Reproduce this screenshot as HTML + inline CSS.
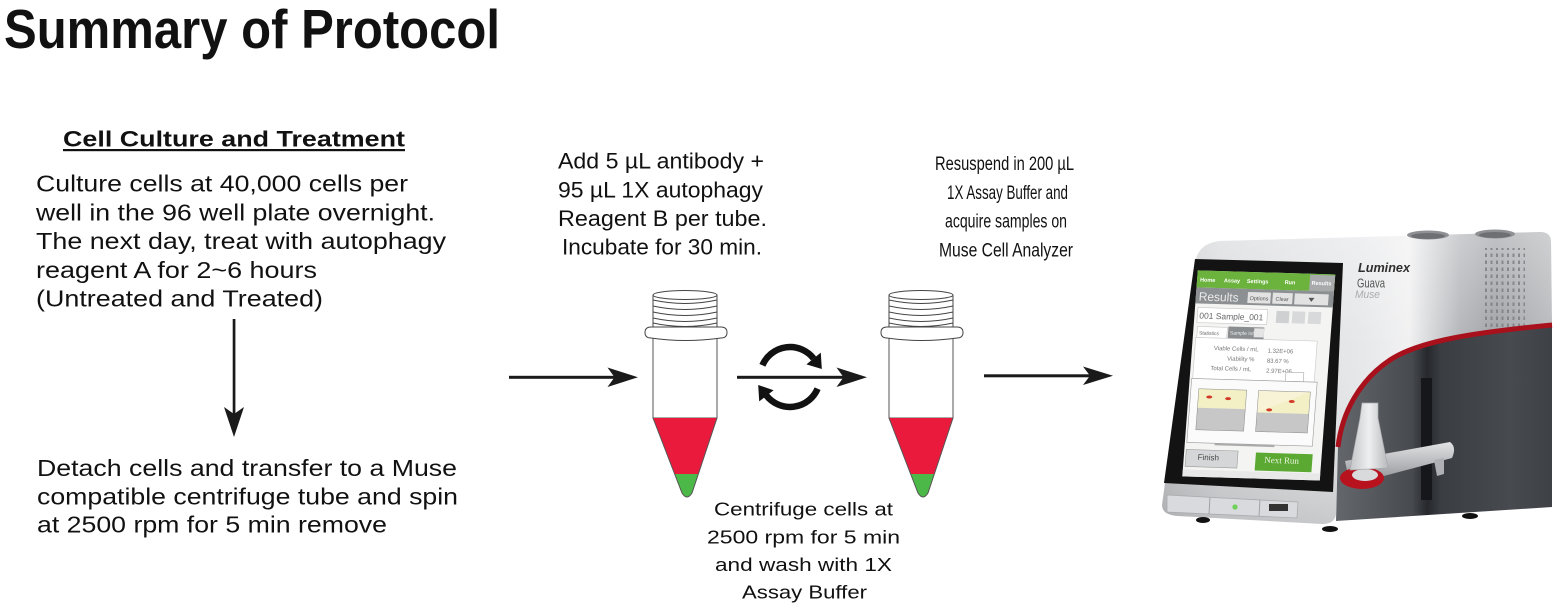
<!DOCTYPE html>
<html><head><meta charset="utf-8">
<style>
html,body{margin:0;padding:0;background:#fff;}
svg{display:block}
</style></head><body>
<svg width="1563" height="610" viewBox="0 0 1563 610" xmlns="http://www.w3.org/2000/svg" font-family="'Liberation Sans', Arial, sans-serif">
<defs>
  <linearGradient id="bodyG" gradientUnits="userSpaceOnUse" x1="1160" y1="0" x2="1555" y2="0">
    <stop offset="0" stop-color="#c3c4c7"/>
    <stop offset="0.15" stop-color="#d8d9dc"/>
    <stop offset="0.5" stop-color="#e6e7e9"/>
    <stop offset="0.63" stop-color="#f1f1f2"/>
    <stop offset="0.76" stop-color="#b2b4b8"/>
    <stop offset="0.85" stop-color="#9fa1a5"/>
    <stop offset="1" stop-color="#b8babd"/>
  </linearGradient>
  <linearGradient id="shadeV" gradientUnits="userSpaceOnUse" x1="0" y1="232" x2="0" y2="525">
    <stop offset="0" stop-color="#ffffff" stop-opacity="0.35"/>
    <stop offset="0.4" stop-color="#ffffff" stop-opacity="0"/>
    <stop offset="1" stop-color="#000000" stop-opacity="0.12"/>
  </linearGradient>
  <linearGradient id="darkG" gradientUnits="userSpaceOnUse" x1="1335" y1="0" x2="1555" y2="0">
    <stop offset="0" stop-color="#64676c"/>
    <stop offset="0.35" stop-color="#474a4f"/>
    <stop offset="0.42" stop-color="#26282c"/>
    <stop offset="0.48" stop-color="#3a3d42"/>
    <stop offset="0.8" stop-color="#474a4f"/>
    <stop offset="1" stop-color="#3d4045"/>
  </linearGradient>
  <linearGradient id="armG" x1="0" y1="0" x2="0" y2="1">
    <stop offset="0" stop-color="#e2e3e5"/>
    <stop offset="1" stop-color="#8a8d91"/>
  </linearGradient>
  <linearGradient id="tubeG" x1="0" y1="0" x2="1" y2="0">
    <stop offset="0" stop-color="#c4c5c8"/>
    <stop offset="0.5" stop-color="#eeeff0"/>
    <stop offset="1" stop-color="#b9babd"/>
  </linearGradient>
  <pattern id="vent" width="5.5" height="7" patternUnits="userSpaceOnUse">
    <rect x="0" y="1.5" width="2" height="3.5" fill="#7d7f83"/>
  </pattern>
  <g id="tube">
    <rect x="653" y="338" width="64" height="80" fill="#fff" stroke="#555" stroke-width="1"/>
    <path d="M653,418 L717,418 L698.5,474 L674.5,474 Z" fill="#ea1a3d"/>
    <path d="M674.5,474 L698.5,474 L692,493 Q687,501 682,493 Z" fill="#4cb848"/>
    <path d="M653,418 L682,493 Q687,501 692,493 L717,418" fill="none" stroke="#555" stroke-width="1"/>
    <path d="M653,295 L653,327 M717,295 L717,327" stroke="#444" stroke-width="1"/>
    <path d="M653,300 Q685,307 717,300 M653,306 Q685,313 717,306 M653,312 Q685,319 717,312 M653,318 Q685,325 717,318 M653,323 Q685,330 717,323" fill="none" stroke="#444" stroke-width="1"/>
    <ellipse cx="685" cy="295" rx="32" ry="4.5" fill="#fff" stroke="#444" stroke-width="1"/>
    <path d="M651,327 L721,327 Q727,327 727,332.5 Q727,338 721,338 Q685,343 651,338 Q645,338 645,332.5 Q645,327 651,327 Z" fill="#fff" stroke="#444" stroke-width="1"/>
  </g>
</defs>

<!-- Title -->
<text x="4" y="48" font-size="55" font-weight="bold" fill="#111" textLength="496" lengthAdjust="spacingAndGlyphs">Summary of Protocol</text>

<!-- Heading -->
<text x="63" y="146.5" font-size="22.5" font-weight="bold" fill="#111" textLength="342" lengthAdjust="spacingAndGlyphs">Cell Culture and Treatment</text>
<rect x="63" y="149" width="342" height="2.2" fill="#111"/>

<!-- Left text -->
<g font-size="23.5" fill="#111">
  <text x="36" y="191.5" textLength="372" lengthAdjust="spacingAndGlyphs">Culture cells at 40,000 cells per</text>
  <text x="36" y="220.4" textLength="399" lengthAdjust="spacingAndGlyphs">well in the 96 well plate overnight.</text>
  <text x="36" y="249.2" textLength="410" lengthAdjust="spacingAndGlyphs">The next day, treat with autophagy</text>
  <text x="36" y="278" textLength="281" lengthAdjust="spacingAndGlyphs">reagent A for 2~6 hours</text>
  <text x="36" y="306.7" textLength="287" lengthAdjust="spacingAndGlyphs">(Untreated and Treated)</text>

  <text x="37" y="476" textLength="420" lengthAdjust="spacingAndGlyphs">Detach cells and transfer to a Muse</text>
  <text x="37" y="504.5" textLength="421" lengthAdjust="spacingAndGlyphs">compatible centrifuge tube and spin</text>
  <text x="37" y="532.5" textLength="350" lengthAdjust="spacingAndGlyphs">at 2500 rpm for 5 min remove</text>
</g>

<!-- Middle top text -->
<g font-size="22.5" fill="#111">
  <text x="558" y="168.5" textLength="206" lengthAdjust="spacingAndGlyphs">Add 5 µL antibody +</text>
  <text x="558" y="197.3" textLength="205" lengthAdjust="spacingAndGlyphs">95 µL 1X autophagy</text>
  <text x="558" y="226" textLength="209" lengthAdjust="spacingAndGlyphs">Reagent B per tube.</text>
  <text x="562" y="254.5" textLength="200" lengthAdjust="spacingAndGlyphs">Incubate for 30 min.</text>
</g>

<!-- Right top text -->
<g font-size="19" fill="#111">
  <text x="935" y="170" textLength="139" lengthAdjust="spacingAndGlyphs">Resuspend in 200 µL</text>
  <text x="947" y="199" textLength="121" lengthAdjust="spacingAndGlyphs">1X Assay Buffer and</text>
  <text x="945" y="227.5" textLength="122" lengthAdjust="spacingAndGlyphs">acquire samples on</text>
  <text x="939" y="256.5" textLength="134" lengthAdjust="spacingAndGlyphs">Muse Cell Analyzer</text>
</g>

<!-- Bottom center text -->
<g font-size="18.5" fill="#111">
  <text x="714" y="515.5" textLength="179" lengthAdjust="spacingAndGlyphs">Centrifuge cells at</text>
  <text x="707" y="543.3" textLength="193" lengthAdjust="spacingAndGlyphs">2500 rpm for 5 min</text>
  <text x="715" y="571" textLength="177" lengthAdjust="spacingAndGlyphs">and wash with 1X</text>
  <text x="742" y="598.3" textLength="125" lengthAdjust="spacingAndGlyphs">Assay Buffer</text>
</g>

<!-- Arrows -->
<g fill="#1a1a1a">
  <rect x="232.7" y="319" width="2.7" height="96"/>
  <path d="M234,437 L224,407 L234,414 L244,407 Z"/>
  <rect x="509" y="375.8" width="107" height="3"/>
  <path d="M638,377.3 L607.5,367.5 L614.5,377.3 L607.5,387 Z"/>
  <rect x="737" y="375.8" width="108" height="3"/>
  <path d="M867,377.3 L836.5,367.5 L843.5,377.3 L836.5,387 Z"/>
  <rect x="984" y="374.3" width="107" height="3"/>
  <path d="M1113,375.8 L1083,366.5 L1090,375.8 L1083,385 Z"/>
</g>

<!-- Circular arrows -->
<g>
  <path d="M762.4,365.3 A30,30 0 0 1 813.6,358.5" fill="none" stroke="#111" stroke-width="6.5"/>
  <path d="M821.8,369 L820.8,352.6 L806.4,364.4 Z" fill="#111"/>
  <path d="M817.6,388.7 A30,30 0 0 1 766.4,395.5" fill="none" stroke="#111" stroke-width="6.5"/>
  <path d="M758.2,385 L773.6,390.3 L759.2,401.4 Z" fill="#111"/>
</g>

<!-- Tubes -->
<use href="#tube"/>
<use href="#tube" transform="translate(236,0)"/>

<!-- Instrument -->
<g>
  <path d="M1162,505 L1195,262 Q1199,243 1220,241 L1540,232 Q1551,232 1551,242 L1552,323 C1480,330 1420,338 1390,358 C1360,378 1342,410 1338,445 L1336,514 Q1335,524 1322,524 L1178,516 Q1162,515 1162,505 Z" fill="url(#bodyG)"/>
  <path d="M1162,505 L1195,262 Q1199,243 1220,241 L1540,232 Q1551,232 1551,242 L1552,323 C1480,330 1420,338 1390,358 C1360,378 1342,410 1338,445 L1336,514 Q1335,524 1322,524 L1178,516 Q1162,515 1162,505 Z" fill="url(#shadeV)"/>
  <ellipse cx="1428" cy="235" rx="21" ry="4.5" fill="#8f9195"/>
  <ellipse cx="1428" cy="236" rx="17" ry="3" fill="#6d6f73"/>
  <ellipse cx="1495" cy="234" rx="20" ry="4.5" fill="#8f9195"/>
  <ellipse cx="1495" cy="235" rx="16" ry="3" fill="#6d6f73"/>
  <rect x="1483" y="248" width="42" height="92" fill="url(#vent)" opacity="0.85"/>
  <path d="M1552,323 C1480,330 1420,338 1390,358 C1360,378 1342,410 1338,445 L1336,521 L1552,507 Z" fill="url(#darkG)"/>
  <rect x="1421" y="378" width="11" height="122" fill="#15171a"/>
  <path d="M1552,325 C1480,332 1420,340 1390,360 C1360,380 1342,412 1338,447" fill="none" stroke="#a8101c" stroke-width="5"/>
  <text x="1358" y="272" font-size="13" font-weight="bold" font-style="italic" fill="#2e2e2e" textLength="52" lengthAdjust="spacingAndGlyphs">Luminex</text>
  <text x="1357" y="287.5" font-size="13" fill="#555" textLength="28" lengthAdjust="spacingAndGlyphs">Guava</text>
  <text x="1355" y="298" font-size="11" font-style="italic" fill="#a9abad" textLength="25" lengthAdjust="spacingAndGlyphs">Muse</text>
  <polygon points="1195,259 1343,263 1333,492 1164,483" fill="#131313"/>
  <g transform="matrix(0.996 0.0297 -0.0752 1 1197.8 270.4)">
    <rect x="0" y="0" width="138" height="206" fill="#f4f5f2"/>
    <rect x="0" y="0" width="138" height="17" fill="#6cb33e"/>
    <rect x="113" y="1" width="25" height="16" fill="#a8aaac"/>
    <g font-size="5.5" font-weight="bold" fill="#fff">
      <text x="3" y="11">Home</text>
      <text x="27" y="11">Assay</text>
      <text x="50" y="11">Settings</text>
      <text x="88" y="11">Run</text>
      <text x="115" y="11">Results</text>
    </g>
    <rect x="0" y="17" width="138" height="16" fill="#8d9093"/>
    <text x="3" y="30" font-size="12" fill="#e9e9e9">Results</text>
    <rect x="52" y="20" width="23" height="11" fill="#e2e2e2"/>
    <text x="54" y="28" font-size="5.5" fill="#555">Options</text>
    <rect x="77" y="20" width="20" height="11" fill="#e2e2e2"/>
    <text x="80" y="28" font-size="5.5" fill="#555">Clear</text>
    <rect x="99" y="20" width="34" height="11" fill="#e2e2e2"/>
    <path d="M113,24 L119,24 L116,28 Z" fill="#555"/>
    <rect x="3" y="37" width="70" height="15" fill="#fff" stroke="#c4c4c4" stroke-width="0.6"/>
    <text x="5" y="48" font-size="8.5" fill="#666">001 Sample_001</text>
    <rect x="82" y="38" width="13" height="12" fill="#cfd0d1"/>
    <rect x="98" y="38" width="13" height="12" fill="#d8d9da"/>
    <rect x="114" y="38" width="13" height="12" fill="#d8d9da"/>
    <rect x="4" y="56" width="30" height="11" fill="#fff" stroke="#bbb" stroke-width=".5"/>
    <text x="6" y="64" font-size="5" fill="#666">Statistics</text>
    <rect x="35" y="55" width="36" height="12" fill="#8a8d90"/>
    <text x="37" y="63" font-size="5" fill="#eee">Sample Info</text>
    <rect x="61" y="56" width="10" height="9" fill="#e4e4e4"/>
    <rect x="3" y="67" width="122" height="41" fill="#fff" stroke="#c8c8c8" stroke-width=".6"/>
    <g font-size="6" fill="#777">
      <text x="22" y="79">Viable Cells / mL</text>
      <text x="76" y="80">1.32E+06</text>
      <text x="36" y="89">Viability %</text>
      <text x="76" y="90">83.67 %</text>
      <text x="20" y="99">Total Cells / mL</text>
      <text x="76" y="100">2.97E+06</text>
    </g>
    <rect x="96" y="99" width="18" height="9" fill="#fff" stroke="#999" stroke-width=".5"/>
    <rect x="2" y="108" width="126" height="64" fill="#fbfbfb" stroke="#9a9a9a" stroke-width=".6"/>
    <rect x="10" y="118" width="48" height="19" fill="#f2f0c4"/>
    <rect x="10" y="137" width="48" height="22" fill="#c7c7c7"/>
    <rect x="10" y="118" width="48" height="41" fill="none" stroke="#888" stroke-width=".5"/>
    <ellipse cx="21" cy="126" rx="3" ry="1.5" fill="#d23a2a"/>
    <ellipse cx="40" cy="127" rx="3" ry="1.5" fill="#d23a2a"/>
    <rect x="70" y="118" width="52" height="41" fill="#f8f3d6"/>
    <path d="M70,140 L122,118 L122,140 Z" fill="#f2f0c4"/>
    <rect x="70" y="140" width="52" height="19" fill="#c7c7c7"/>
    <rect x="70" y="118" width="52" height="41" fill="none" stroke="#888" stroke-width=".5"/>
    <ellipse cx="82" cy="137" rx="3" ry="1.5" fill="#d23a2a"/>
    <ellipse cx="104" cy="128" rx="3" ry="1.5" fill="#d23a2a"/>
    <rect x="30" y="172" width="60" height="2" fill="#aaa"/>
    <rect x="2" y="179" width="52" height="17" fill="#d5d6d7" stroke="#9a9a9a" stroke-width=".6"/>
    <text x="14" y="189" font-size="8" fill="#444">Finish</text>
    <rect x="72" y="180" width="57" height="18" fill="#5ba832"/>
    <text x="81" y="190" font-size="9" fill="#eaf5e0" font-family="'Liberation Serif', serif">Next Run</text>
    <rect x="0" y="199" width="138" height="7" fill="#e8e8e8"/>
  </g>
  <polygon points="1167,495 1298,502 1297,518 1167,512" fill="#d9dadd" stroke="#a9abae" stroke-width="0.8"/>
  <path d="M1210,497 L1209,514 M1260,500 L1259,516" stroke="#a0a2a5" stroke-width="1"/>
  <circle cx="1235" cy="507" r="2.6" fill="#6fd05a"/>
  <rect x="1269" y="504" width="19" height="7" fill="#333"/>
  <ellipse cx="1203" cy="520" rx="7" ry="3" fill="#111"/>
  <ellipse cx="1330" cy="529" rx="8" ry="3" fill="#111"/>
  <ellipse cx="1470" cy="516" rx="8" ry="3" fill="#111"/>
  <path d="M1345,461 L1450,442 Q1457,447 1452,458 L1350,485 Z" fill="url(#armG)"/>
  <path d="M1434,460 L1444,458 L1444,474 L1437,476 Z" fill="#aeb0b3"/>
  <ellipse cx="1362" cy="478" rx="22" ry="11" fill="#b8121e"/>
  <ellipse cx="1365" cy="475" rx="13" ry="6" fill="#d9dadc"/>
  <path d="M1362,403 L1378,403 L1378,418 L1388,468 L1350,470 L1360,418 Z" fill="url(#tubeG)" stroke="#a9aaad" stroke-width="0.7"/>
</g>
</svg>
</body></html>
